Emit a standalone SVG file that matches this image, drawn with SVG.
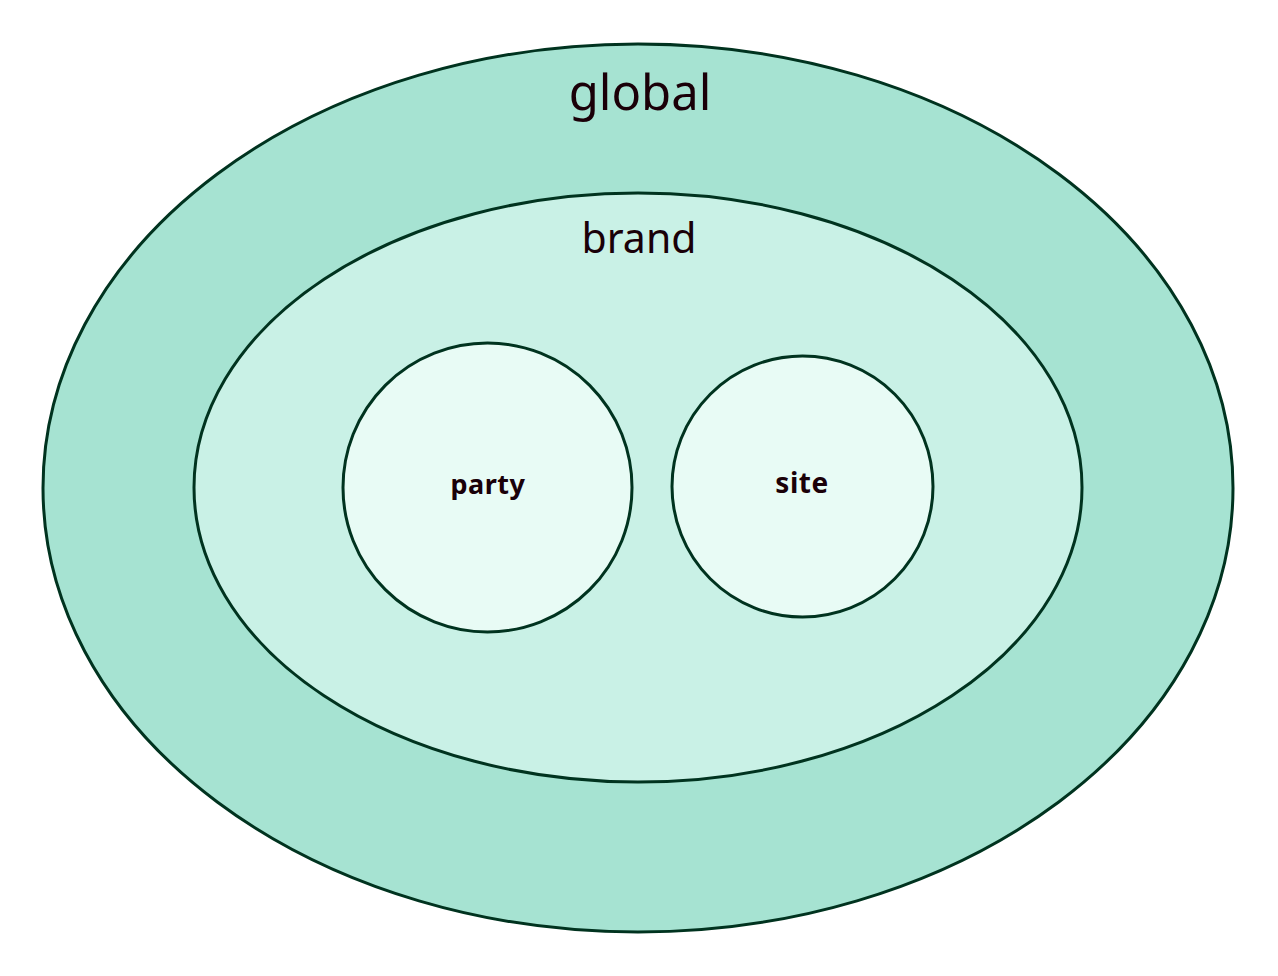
<svg xmlns="http://www.w3.org/2000/svg" width="1278" height="976" viewBox="0 0 1278 976">
<style>
.shape{stroke:#00331f;stroke-width:3}
.lbl{font-family:"Noto Sans","Open Sans","Liberation Sans",sans-serif;fill:#1a0008;text-anchor:middle}
.b{font-weight:bold}
</style>
<rect width="1278" height="976" fill="#ffffff"/>
<g id="global">
<ellipse class="shape" cx="638" cy="488" rx="595" ry="444" fill="#a6e3d2"/>
<text class="lbl" x="640" y="110" font-size="49">global</text>
</g>
<g id="brand">
<ellipse class="shape" cx="638" cy="487.5" rx="444" ry="294.5" fill="#c9f1e6"/>
<text class="lbl" x="639" y="253" font-size="41">brand</text>
</g>
<g id="party">
<circle class="shape" cx="487.5" cy="487.5" r="144.5" fill="#e8fbf5"/>
<text class="lbl b" x="488" y="494" font-size="27" letter-spacing="0.5">party</text>
</g>
<g id="site">
<circle class="shape" cx="802.5" cy="486.5" r="130.5" fill="#e8fbf5"/>
<text class="lbl b" x="802" y="493" font-size="28" letter-spacing="0.5">site</text>
</g>
<g id="connectors"></g>
</svg>
